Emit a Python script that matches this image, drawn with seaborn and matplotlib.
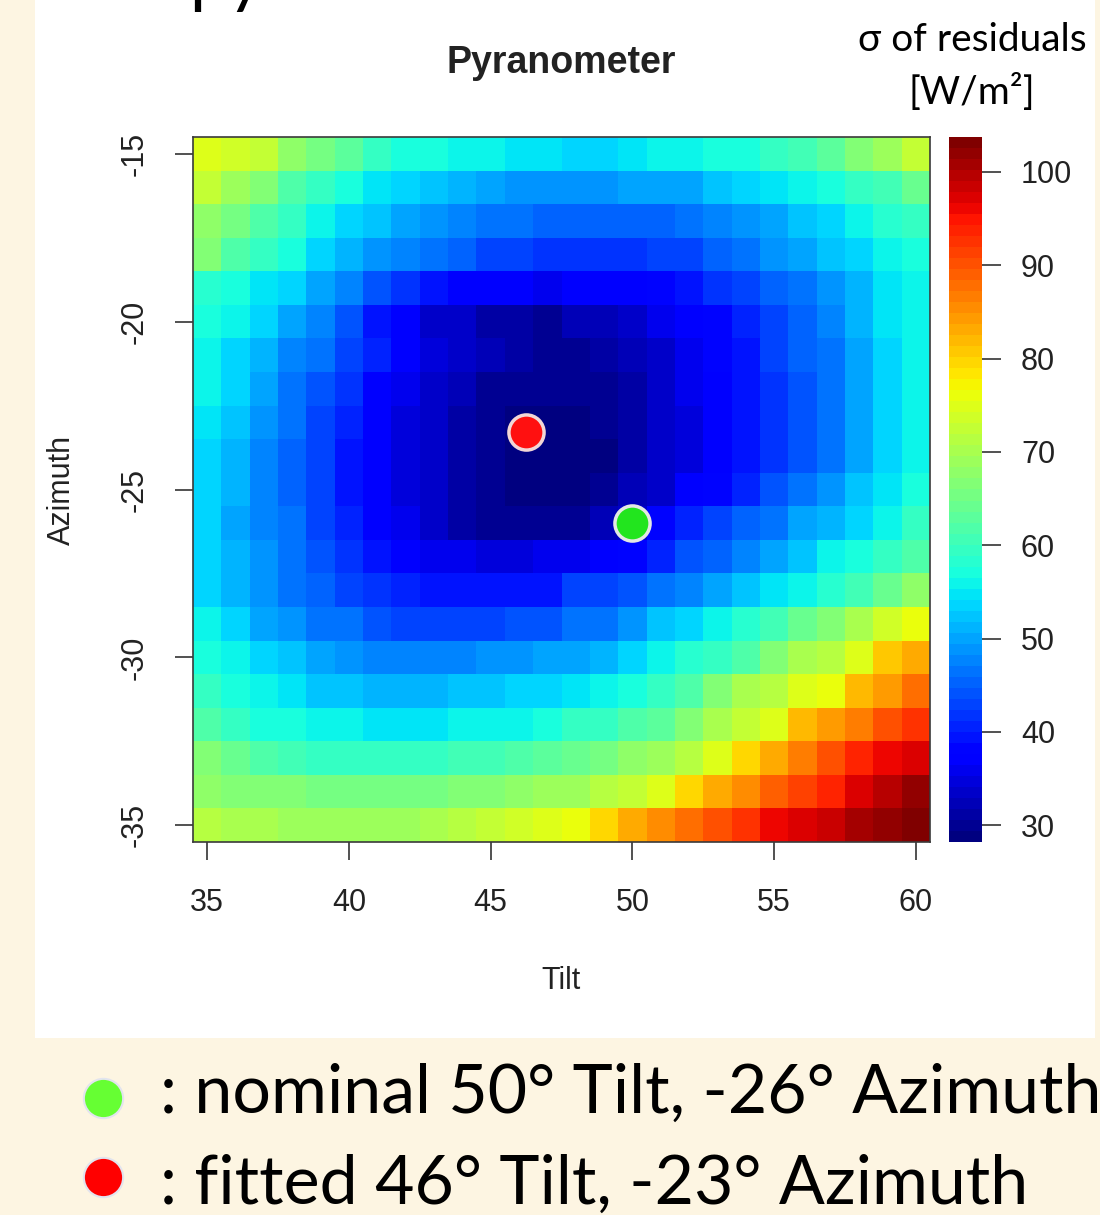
import matplotlib
matplotlib.use("Agg")
import matplotlib.pyplot as plt
from matplotlib.patches import Rectangle
import pandas as pd
import seaborn as sns

# grid of the fit: tilt along x, azimuth along y (top row = -15)
tilt = list(range(35, 61))
azimuth = list(range(-15, -36, -1))

# sigma of residuals [W/m2], one list per azimuth row
sigma_rows = [
    [75, 73.5, 72, 68, 65, 63, 60, 57.5, 57, 56, 55.5, 55, 54.5, 54, 54, 54.5, 55.5, 56, 57, 57.5, 59, 61, 63, 66, 69, 72],
    [72, 69, 66, 62, 59, 57, 55, 53, 52, 51, 50, 49, 49, 49, 49, 49.5, 50, 50.5, 52, 53.5, 54.5, 56, 57, 59, 61, 64],
    [68, 65, 62, 59, 56.5, 54, 52, 50, 49, 48, 47, 46, 45.5, 45, 45, 45, 45.5, 46.5, 47.5, 49, 50, 52, 54, 56, 58, 60],
    [66, 62, 60, 57, 54, 51, 49, 48, 46, 45, 43.5, 42.5, 41.5, 41.5, 41.5, 42, 43, 43.5, 45, 46.5, 48.5, 49.5, 52, 54, 56.5, 57.5],
    [58.5, 57, 55, 53, 50, 48, 44.5, 41.5, 39, 37.5, 37, 36.5, 36, 36.5, 37, 37.5, 38.5, 39.5, 42, 42.5, 45.5, 46.5, 48.5, 51, 55, 56.5],
    [57, 55.5, 53, 50, 48, 44, 39.5, 37, 34, 33.5, 31.5, 31, 30.5, 32, 32.5, 33.5, 35.5, 36.5, 38, 41, 43, 45, 48, 51, 54.5, 56.5],
    [56.5, 54, 51, 48, 46, 43.5, 40.5, 37, 35, 33, 32, 31, 30.5, 30.5, 31, 32, 34, 36, 38, 40, 43, 45, 47, 50, 53, 56],
    [56, 53, 50, 47, 44.5, 41.5, 37.5, 36, 34, 32, 30.5, 30, 29.5, 29.5, 30, 31.5, 33.5, 35.5, 37, 39.5, 42, 44.5, 47, 50, 53, 56],
    [55, 52, 49, 46, 43.5, 40.5, 37, 35, 33, 31.5, 30, 29, 28.8, 28.8, 29.5, 31, 33, 35, 37, 39, 42, 44.5, 47, 50, 53, 56],
    [54, 51, 48, 45, 42.5, 39.5, 37, 35, 33, 31, 29.5, 28.8, 28.5, 28.5, 29, 31, 33, 35, 37, 39, 42, 44.5, 47, 50.5, 53.5, 56.5],
    [53.5, 51, 48, 45, 42.5, 39.5, 37, 35, 33, 31, 29.5, 28.8, 28.5, 29, 30, 32, 34, 36.5, 38.5, 41, 44, 46.5, 49, 52, 55, 57.5],
    [53, 50, 48, 46, 43.5, 40.5, 37.5, 36, 33, 31.5, 30.5, 30, 30, 30.5, 32, 34, 38, 41, 43, 45, 47, 49.5, 51.5, 54, 56.5, 59],
    [53, 51, 49, 46, 44.5, 41.5, 39.5, 37.5, 36, 35.5, 35, 35, 35.5, 36, 37.5, 38, 41, 44, 45.5, 48, 50, 52.5, 56, 57, 59.5, 62],
    [54, 51, 49, 46, 45, 43.5, 41.5, 40.5, 39.5, 39, 39, 39.5, 40, 42.5, 43.5, 44.5, 47, 48, 50, 52, 55, 56.5, 58.5, 61, 64, 68],
    [56.5, 53, 50, 49, 47, 46, 44.5, 43.5, 43, 43, 43.5, 44, 44.5, 46, 47, 49, 52, 54, 56.5, 58.5, 61, 64.5, 66, 70, 74, 76],
    [57.5, 56, 53, 52, 49.5, 48.5, 48, 48, 48, 48, 48.5, 49, 49.5, 49.5, 51, 53, 56.5, 58.5, 59.5, 62, 66, 70, 71.5, 75, 80.5, 83.5],
    [59, 57.5, 55.5, 54.5, 52.5, 52, 51.5, 51.5, 51.5, 52, 52.5, 53, 54, 55, 56.5, 57, 59, 62, 66, 70, 71.5, 75, 76, 82.5, 84.5, 88],
    [62, 60, 57.5, 57, 55.5, 55.5, 55, 55, 55, 55.5, 56, 56.5, 57.5, 59, 60, 62, 63, 66, 70, 72, 75, 81.5, 84.5, 87, 90, 93],
    [66, 64, 62, 61, 60, 59.5, 59.5, 59.5, 60, 60.5, 61, 62, 63, 64, 65.5, 67.5, 68.5, 71, 75, 79, 83.5, 87, 90, 94, 96, 97.5],
    [68, 67, 66.5, 66, 65.5, 65, 65, 65, 65.5, 66, 67, 68, 69, 69, 71, 72, 75, 80, 83.5, 86, 89, 91, 94, 97.5, 100, 101.5],
    [71, 70.5, 70, 69.5, 69, 69, 69, 69.5, 70, 71, 72, 73.5, 75, 76.5, 80, 83.5, 86, 88, 90, 93, 96, 97.5, 99, 100.5, 102.5, 103.5],
]

nominal = (50, -26)       # tilt, azimuth
fitted = (46.26, -23.29)

x_ticks = [35, 40, 45, 50, 55, 60]
y_ticks = [-15, -20, -25, -30, -35]
cbar_ticks = [30, 40, 50, 60, 70, 80, 90, 100]
sigma_min, sigma_max = 28.2, 103.75

nominal_label = ": nominal 50\u00b0 Tilt, -26\u00b0 Azimuth"
fitted_label = ": fitted 46\u00b0 Tilt, -23\u00b0 Azimuth"

W, H = 1100, 1215
SLIDE_BG = "#fdf5e2"


def px_box(x0, y0, x1, y1):
    # pixel box measured from the top-left corner -> figure fraction rect
    return [x0 / W, 1 - y1 / H, (x1 - x0) / W, (y1 - y0) / H]


def heat_x(t):
    return t - tilt[0] + 0.5


def heat_y(a):
    return azimuth[0] - a + 0.5


sns.set_style("white")
plt.rcParams["font.family"] = ["Liberation Sans", "DejaVu Sans"]

fig = plt.figure(figsize=(W / 100, H / 100), dpi=100, facecolor=SLIDE_BG)
fig.patches.append(Rectangle((35 / W, 1 - 1038 / H), 1060 / W, 1038 / H,
                             transform=fig.transFigure, facecolor="white",
                             edgecolor="none", zorder=-5))

ax = fig.add_axes(px_box(193, 137, 930, 842))
cax = fig.add_axes(px_box(949, 137, 982, 842))

df = pd.DataFrame(sigma_rows, index=azimuth, columns=tilt)
jet = matplotlib.colormaps["jet"].resampled(64)
sns.heatmap(df, ax=ax, cbar_ax=cax, cmap=jet, vmin=sigma_min, vmax=sigma_max,
            cbar_kws={"ticks": cbar_ticks})

# nominal vs fitted orientation
ax.scatter([heat_x(fitted[0])], [heat_y(fitted[1])], s=640, color="#ff1010",
           edgecolors="#f2d6d6", linewidths=2.5, zorder=5)
ax.scatter([heat_x(nominal[0])], [heat_y(nominal[1])], s=640, color="#22e51e",
           edgecolors="#e4e8e4", linewidths=2.5, zorder=5)

ax.set_xticks([heat_x(t) for t in x_ticks])
ax.set_xticklabels(x_ticks, rotation=0)
ax.set_yticks([heat_y(a) for a in y_ticks])
ax.set_yticklabels(y_ticks, rotation=90, va="center")
ax.tick_params(axis="x", bottom=True, length=13, width=1.2, color="#333333",
               labelsize=22, labelcolor="#222222", pad=20)
ax.tick_params(axis="y", left=True, length=13, width=1.2, color="#333333",
               labelsize=22, labelcolor="#222222", pad=18)
for spine in ax.spines.values():
    spine.set_visible(True)
    spine.set_color("#3a3a3a")
    spine.set_linewidth(1.2)

ax.set_xlabel("Tilt", fontsize=22, color="#222222", labelpad=35)
ax.set_ylabel("Azimuth", fontsize=22, color="#222222", labelpad=31)
ax.set_title("Pyranometer", fontsize=27, fontweight="bold", color="#222222", pad=46)

cbar = ax.collections[0].colorbar
cbar.outline.set_visible(False)
cax.tick_params(right=True, length=14, width=1.2, color="#333333",
                labelsize=22, labelcolor="#222222", pad=14)

fig.text(972 / W, 1 - 40 / H, "\u03c3 of residuals", ha="center", va="center",
         fontsize=28, color="black", family=["Lato", "Liberation Serif"])
fig.text(972 / W, 1 - 92 / H, "[W/m\u00b2]", ha="center", va="center",
         fontsize=28, color="black", family=["Lato", "DejaVu Sans"])

# slide overlay: legend dots, legend text, cut-off slide heading
over = fig.add_axes([0, 0, 1, 1], zorder=10)
over.set_xlim(0, W)
over.set_ylim(H, 0)
over.axis("off")
over.scatter([103], [1098], s=800, color="#66ff33", edgecolors="#e2e4ee", linewidths=1.5)
over.scatter([103], [1177], s=800, color="#ff0000", edgecolors="#e2e4ee", linewidths=1.5)
over.text(160, 1113, nominal_label, fontsize=49, color="black", family="Lato",
          va="baseline", ha="left")
over.text(160, 1204, fitted_label, fontsize=49, color="black", family="Lato",
          va="baseline", ha="left")
over.text(189, 0, "py", fontsize=50, color="black", family="Lato",
          va="baseline", ha="left")

fig.savefig("out.png", dpi=100, facecolor=SLIDE_BG)
